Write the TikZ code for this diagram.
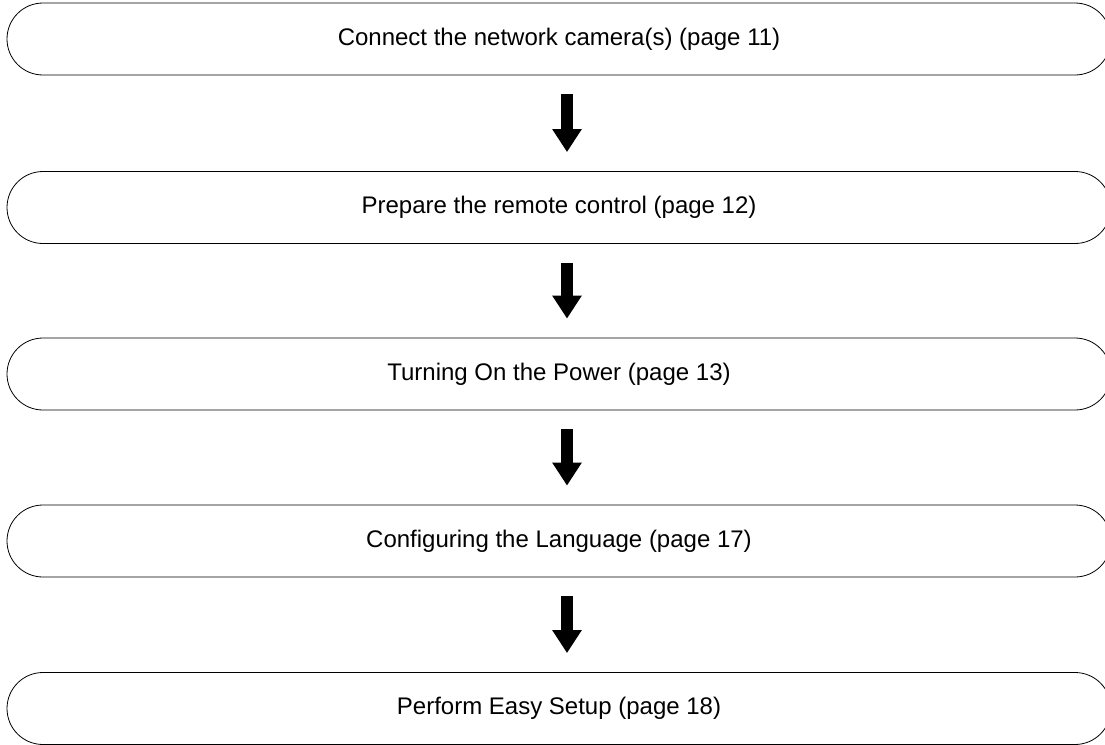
\documentclass[tikz,border=0pt]{standalone}
\usepackage{fontspec}
\setmainfont{Liberation Sans}
\usetikzlibrary{arrows.meta}

\begin{document}
\begin{tikzpicture}[x=1pt, y=-1pt]
			\tikzstyle{every node}=[font=\fontsize{24}{29}\selectfont]
			\tikzstyle{schritt}=[draw, line width=0.8pt, rounded corners=36pt, minimum width=1104pt, minimum height=72pt, inner sep=0pt]
			\tikzstyle{pfeil}=[line width=12pt, -{Triangle[length=23pt, width=28pt]}, shorten <=19pt, shorten >=19pt]
			
			\useasboundingbox (0,0) rectangle (1105,744);
			
			%Schritte
			\node[schritt] (s1) at (559,39) {Connect the network camera(s) (page 11)};
			\node[schritt] (s2) at (559,207.5) {Prepare the remote control (page 12)};
			\node[schritt] (s3) at (559,374) {Turning On the Power (page 13)};
			\node[schritt] (s4) at (559,541) {Configuring the Language (page 17)};
			\node[schritt] (s5) at (559,708.5) {Perform Easy Setup (page 18)};
			
			%Pfeile
			\draw[pfeil] ([xshift=8pt]s1.south) -- ([xshift=8pt]s2.north);
			\draw[pfeil] ([xshift=8pt]s2.south) -- ([xshift=8pt]s3.north);
			\draw[pfeil] ([xshift=8pt]s3.south) -- ([xshift=8pt]s4.north);
			\draw[pfeil] ([xshift=8pt]s4.south) -- ([xshift=8pt]s5.north);
\end{tikzpicture}
\end{document}
